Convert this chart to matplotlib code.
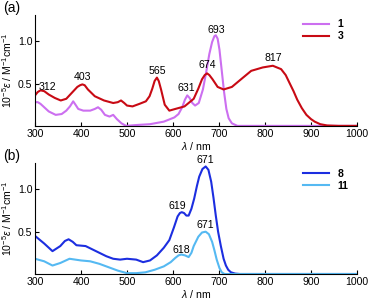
import numpy as np
import matplotlib
matplotlib.use("Agg")
import matplotlib.pyplot as plt

plt.rcParams["font.family"] = ["Liberation Sans", "DejaVu Sans"]
plt.rcParams["mathtext.fontset"] = "custom"
plt.rcParams["mathtext.rm"] = "Liberation Sans"
plt.rcParams["mathtext.it"] = "Liberation Sans:italic"

# panel (a): compounds 1 and 3
wl_1 = [300, 306, 312, 320, 330, 345, 358, 368, 376, 383, 388, 394, 405, 420, 430, 437, 444,
        452, 462, 470, 478, 488, 498, 520, 550, 580, 603, 612, 620, 626, 631, 636, 642, 648,
        656, 665, 672, 679, 685, 690, 693, 697, 701, 706, 711, 716, 721, 728, 740, 1000]
eps_1 = [0.28, 0.28, 0.26, 0.22, 0.17, 0.13, 0.14, 0.18, 0.23, 0.29, 0.25, 0.20, 0.18, 0.18,
         0.20, 0.22, 0.19, 0.13, 0.11, 0.13, 0.08, 0.03, 0.0, 0.01, 0.02, 0.05, 0.10, 0.14,
         0.22, 0.31, 0.36, 0.33, 0.27, 0.24, 0.27, 0.43, 0.63, 0.85, 0.99, 1.06, 1.07, 1.03,
         0.90, 0.65, 0.40, 0.20, 0.09, 0.03, 0.0, 0.0]

wl_3 = [300, 306, 312, 320, 330, 343, 356, 368, 380, 392, 398, 403, 408, 415, 430, 450, 470,
        480, 487, 494, 500, 512, 527, 541, 549, 555, 560, 565, 569, 574, 582, 592, 605, 625,
        645, 655, 663, 669, 674, 679, 686, 697, 710, 728, 750, 770, 795, 817, 835, 845, 853,
        862, 870, 880, 890, 900, 908, 920, 935, 960, 1000]
eps_3 = [0.36, 0.40, 0.42, 0.41, 0.37, 0.33, 0.30, 0.32, 0.39, 0.46, 0.48, 0.49, 0.48, 0.43,
         0.35, 0.30, 0.27, 0.28, 0.30, 0.27, 0.24, 0.23, 0.26, 0.29, 0.35, 0.44, 0.53, 0.57,
         0.53, 0.43, 0.25, 0.18, 0.20, 0.23, 0.32, 0.44, 0.55, 0.60, 0.62, 0.60, 0.55, 0.46,
         0.43, 0.46, 0.56, 0.65, 0.69, 0.71, 0.67, 0.60, 0.51, 0.41, 0.31, 0.21, 0.13, 0.08,
         0.05, 0.02, 0.005, 0.0, 0.0]

# panel (b): compounds 8 and 11
wl_8 = [300, 320, 338, 355, 365, 373, 382, 390, 410, 425, 440, 455, 470, 485, 500, 520, 535,
        550, 565, 580, 592, 602, 610, 615, 619, 624, 629, 634, 640, 646, 652, 657, 664, 671,
        677, 683, 688, 693, 698, 704, 710, 715, 720, 726, 735, 745, 1000]
eps_8 = [0.45, 0.36, 0.27, 0.33, 0.39, 0.41, 0.38, 0.34, 0.33, 0.29, 0.25, 0.21, 0.18, 0.17,
         0.18, 0.17, 0.14, 0.16, 0.22, 0.31, 0.40, 0.55, 0.68, 0.72, 0.73, 0.72, 0.69, 0.69,
         0.77, 0.89, 1.04, 1.15, 1.24, 1.27, 1.23, 1.09, 0.90, 0.69, 0.50, 0.33, 0.18, 0.10,
         0.05, 0.02, 0.005, 0.0, 0.0]

wl_11 = [300, 320, 338, 355, 375, 400, 420, 440, 460, 480, 500, 520, 540, 560, 580, 595, 605,
         612, 618, 626, 634, 640, 645, 655, 663, 671, 678, 685, 690, 695, 701, 706, 712, 1000]
eps_11 = [0.18, 0.15, 0.10, 0.13, 0.18, 0.16, 0.15, 0.12, 0.08, 0.04, 0.01, 0.01, 0.02, 0.05,
          0.09, 0.14, 0.19, 0.22, 0.23, 0.22, 0.20, 0.25, 0.33, 0.44, 0.49, 0.50, 0.47, 0.38,
          0.28, 0.17, 0.07, 0.02, 0.0, 0.0]

# peak labels: (wavelength, series name, dx px, dy px)
peaks_a = [(312, "3", 7, 3), (403, "3", 0, 7), (565, "3", 0, 7), (631, "1", -1, 7),
           (674, "3", 0, 8), (693, "1", 1, 5), (817, "3", 0, 8)]
peaks_b = [(619, "8", -4, 6), (618, "11", 0, 5), (671, "8", 0, 6), (671, "11", 0, 7)]

series = {
    "1": (wl_1, eps_1, "#cc6ff0"),
    "3": (wl_3, eps_3, "#c80a14"),
    "8": (wl_8, eps_8, "#1c2ee0"),
    "11": (wl_11, eps_11, "#55b9f2"),
}

fs = 7.6
fig = plt.figure(figsize=(3.70, 2.99), dpi=100)
ax_a = fig.add_axes([0.0946, 0.579, 0.8703, 0.371])
ax_b = fig.add_axes([0.0946, 0.0836, 0.8703, 0.371])


def draw_panel(ax, names, peaks, letter, leg_top):
    for name in names:
        wl, eps, color = series[name]
        ax.plot(wl, eps, color=color, lw=1.5, label=name, solid_joinstyle="round")
    for wl0, name, dx, dy in peaks:
        wl, eps, _ = series[name]
        ax.annotate(str(wl0), (wl0, np.interp(wl0, wl, eps)), xytext=(dx, dy),
                    textcoords="offset pixels", ha="center", va="center", fontsize=fs,
                    annotation_clip=False)
    ax.set_xlim(300, 1000)
    ax.set_ylim(0, 1.31)
    ax.set_xticks([300, 400, 500, 600, 700, 800, 900, 1000])
    ax.set_yticks([0.5, 1.0])
    ax.set_yticklabels(["0.5", "1.0"])
    for s in ["top", "right"]:
        ax.spines[s].set_visible(False)
    for s in ["left", "bottom"]:
        ax.spines[s].set_linewidth(0.8)
    ax.tick_params(direction="in", length=3, width=0.8, labelsize=fs, pad=2)
    ax.set_xlabel(r"$\lambda$ / nm", fontsize=fs, labelpad=1)
    ax.set_ylabel(r"10$^{-5}$$\varepsilon$ / M$^{-1}$cm$^{-1}$", fontsize=fs)
    ax.yaxis.set_label_coords(-0.065, 0.5)
    ax.text(-0.1, 1.06, letter, transform=ax.transAxes, fontsize=10, ha="left", va="center")
    ax.legend(loc="upper left", bbox_to_anchor=(0.832, leg_top), frameon=False,
              handlelength=2.5, handletextpad=0.8, labelspacing=0.2,
              borderpad=0, borderaxespad=0, prop={"weight": "bold", "size": fs})


draw_panel(ax_a, ["1", "3"], peaks_a, "(a)", 0.96)
draw_panel(ax_b, ["8", "11"], peaks_b, "(b)", 0.95)

fig.savefig("out.png", dpi=100)
